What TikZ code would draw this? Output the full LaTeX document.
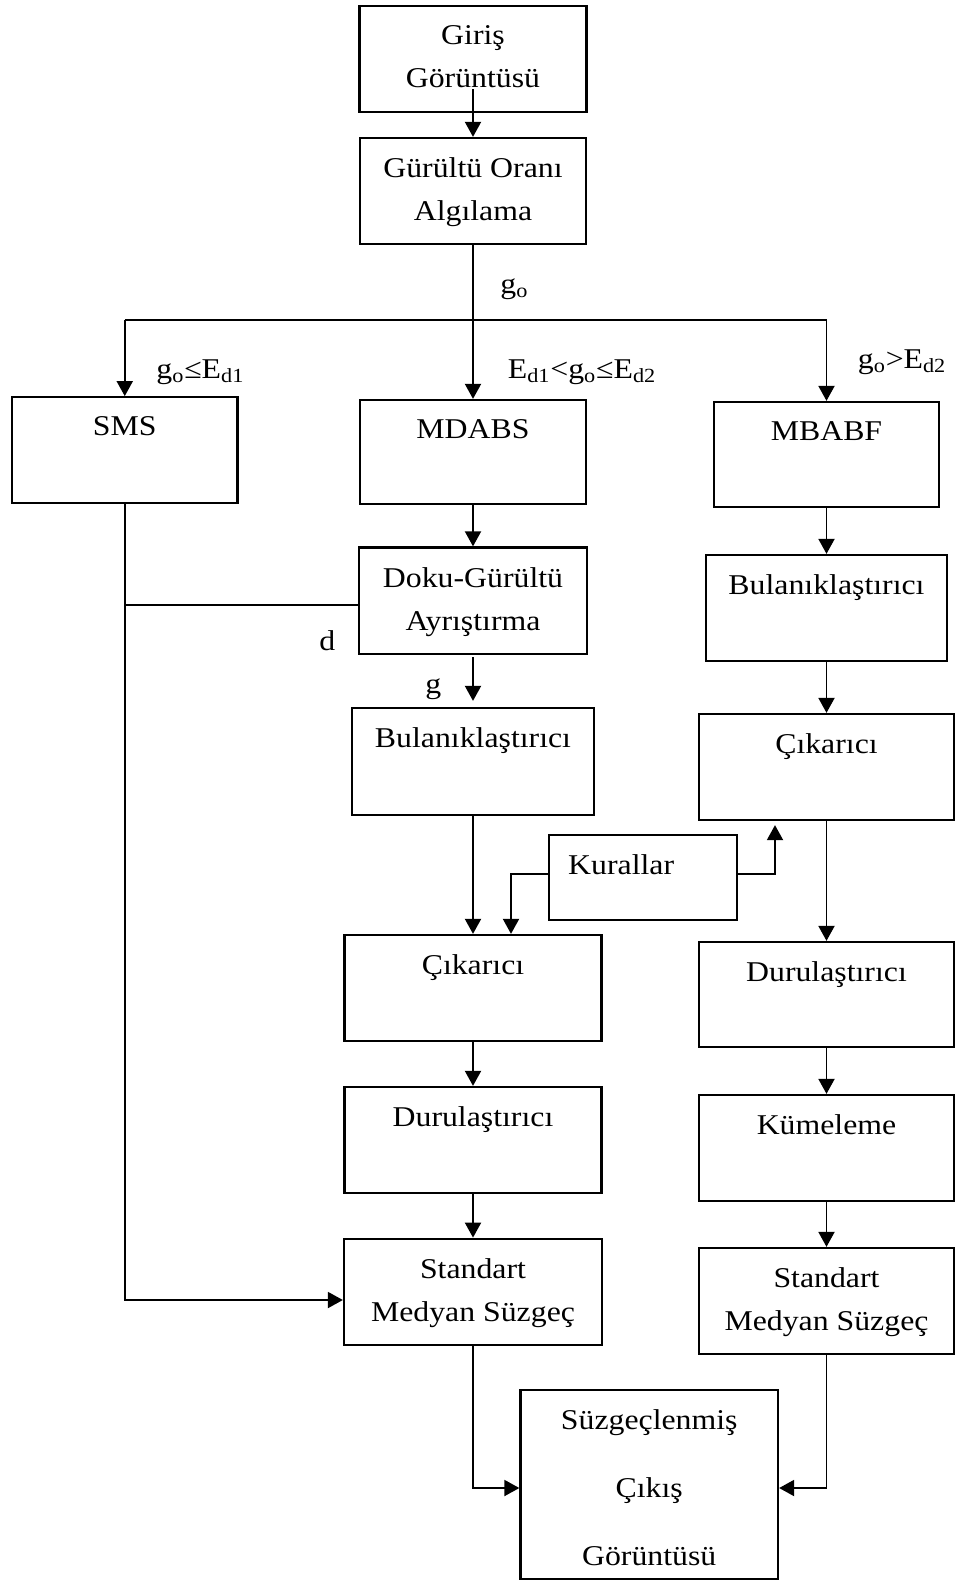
\documentclass[tikz,border=0pt]{standalone}
\usepackage{fontspec}
\setmainfont{Liberation Serif}[FakeStretch=1.11]
\usetikzlibrary{arrows.meta}

\begin{document}
\begin{tikzpicture}[
        kutu/.style={draw, line width=1.3pt, inner sep=0pt},
        yazi/.style={anchor=north, inner sep=0pt, align=center},
        etiket/.style={anchor=base west, inner sep=0pt},
        ok/.style={-{Triangle[length=0.3cm,width=0.32cm]}, line width=1.1pt},
        font=\fontsize{16.3}{24.5}\selectfont]
        \useasboundingbox (0,0) rectangle (19.1,-31.6);

        % --- Draw top boxes ---
        \node[kutu, minimum width=4.54cm, minimum height=2.12cm] (giris) at (9.46,-1.18) {};
        \node[yazi] (girisY) at ([yshift=-0.41cm]giris.north) {Giriş\\Görüntüsü};
        \node[kutu, minimum width=4.53cm, minimum height=2.12cm] (orani) at (9.46,-3.82) {};
        \node[yazi] (oraniY) at ([yshift=-0.41cm]orani.north) {Gürültü Oranı\\Algılama};
        % ---

        % --- Draw the three methods ---
        \node[kutu, minimum width=4.51cm, minimum height=2.11cm] (sms) at (2.495,-9.0) {};
        \node[yazi] (smsY) at ([yshift=-0.41cm]sms.north) {SMS};
        \node[kutu, minimum width=4.53cm, minimum height=2.08cm] (mdabs) at (9.46,-9.04) {};
        \node[yazi] (mdabsY) at ([yshift=-0.41cm]mdabs.north) {MDABS};
        \node[kutu, minimum width=4.51cm, minimum height=2.1cm] (mbabf) at (16.53,-9.09) {};
        \node[yazi] (mbabfY) at ([yshift=-0.41cm]mbabf.north) {MBABF};
        % ---

        % --- Draw middle column ---
        \node[kutu, minimum width=4.56cm, minimum height=2.13cm] (doku) at (9.46,-12.015) {};
        \node[yazi] (dokuY) at ([yshift=-0.41cm]doku.north) {Doku-Gürültü\\Ayrıştırma};
        \node[kutu, minimum width=4.83cm, minimum height=2.14cm] (bul1) at (9.46,-15.23) {};
        \node[yazi] (bul1Y) at ([yshift=-0.41cm]bul1.north) {Bulanıklaştırıcı};
        \node[kutu, minimum width=3.76cm, minimum height=1.7cm] (kural) at (12.86,-17.55) {};
        \node[yazi, anchor=north west] (kuralY) at ([xshift=0.4cm, yshift=-0.41cm]kural.north west) {Kurallar};
        \node[kutu, minimum width=5.14cm, minimum height=2.12cm] (cik1) at (9.46,-19.76) {};
        \node[yazi] (cik1Y) at ([yshift=-0.41cm]cik1.north) {Çıkarıcı};
        \node[kutu, minimum width=5.14cm, minimum height=2.12cm] (dur1) at (9.46,-22.8) {};
        \node[yazi] (dur1Y) at ([yshift=-0.41cm]dur1.north) {Durulaştırıcı};
        \node[kutu, minimum width=5.16cm, minimum height=2.13cm] (std1) at (9.46,-25.84) {};
        \node[yazi] (std1Y) at ([yshift=-0.41cm]std1.north) {Standart\\Medyan Süzgeç};
        % ---

        % --- Draw right column ---
        \node[kutu, minimum width=4.82cm, minimum height=2.12cm] (bul2) at (16.53,-12.16) {};
        \node[yazi] (bul2Y) at ([yshift=-0.41cm]bul2.north) {Bulanıklaştırıcı};
        \node[kutu, minimum width=5.1cm, minimum height=2.12cm] (cik2) at (16.53,-15.34) {};
        \node[yazi] (cik2Y) at ([yshift=-0.41cm]cik2.north) {Çıkarıcı};
        \node[kutu, minimum width=5.1cm, minimum height=2.1cm] (dur2) at (16.53,-19.89) {};
        \node[yazi] (dur2Y) at ([yshift=-0.41cm]dur2.north) {Durulaştırıcı};
        \node[kutu, minimum width=5.1cm, minimum height=2.12cm] (kume) at (16.53,-22.96) {};
        \node[yazi] (kumeY) at ([yshift=-0.41cm]kume.north) {Kümeleme};
        \node[kutu, minimum width=5.1cm, minimum height=2.12cm] (std2) at (16.53,-26.02) {};
        \node[yazi] (std2Y) at ([yshift=-0.41cm]std2.north) {Standart\\Medyan Süzgeç};
        % ---

        % --- Draw output box ---
        \node[kutu, minimum width=5.15cm, minimum height=3.78cm] (cikis) at (12.985,-29.69) {};
        \node[yazi] (cikisY) at ([yshift=-0.41cm]cikis.north) {Süzgeçlenmiş\\[0.5cm]Çıkış\\[0.5cm]Görüntüsü};
        % ---

        % --- Draw labels ---
        \node[etiket] (goY) at (10.0,-5.86) {g\textsubscript{o}};
        \node[etiket] (kosul1) at (3.12,-7.56) {g\textsubscript{o}≤E\textsubscript{d1}};
        \node[etiket] (kosul2) at (10.15,-7.56) {E\textsubscript{d1}<g\textsubscript{o}≤E\textsubscript{d2}};
        \node[etiket] (kosul3) at (17.15,-7.36) {g\textsubscript{o}>E\textsubscript{d2}};
        \node[etiket] (dY) at (6.38,-13.0) {d};
        \node[etiket] (gY) at (8.5,-13.87) {g};
        % ---

        % --- Draw connectors ---
        \coordinate (dal) at (9.46,-6.4);
        \draw[ok] ([yshift=0.48cm]giris.south) -- (orani.north);
        \draw[line width=1.1pt] (orani.south) -- (dal);
        \draw[line width=1.1pt] (sms.north |- dal) -- (mbabf.north |- dal);
        \draw[ok] (sms.north |- dal) -- (sms.north);
        \draw[ok] (dal) -- (mdabs.north);
        \draw[ok] (mbabf.north |- dal) -- (mbabf.north);

        \draw[ok] (mdabs.south) -- (doku.north);
        \draw[ok, shorten <=0.04cm, shorten >=0.12cm] (doku.south) -- (bul1.north);
        \draw[ok] (bul1.south) -- (cik1.north);
        \draw[ok] (cik1.south) -- (dur1.north);
        \draw[ok] (dur1.south) -- (std1.north);
        \draw[line width=1.1pt] ([yshift=-0.08cm]doku.west) -- ([yshift=-0.08cm]doku.west -| sms.south);
        \draw[ok] (sms.south) |- ([yshift=-0.16cm]std1.west);

        \draw[ok] (mbabf.south) -- (bul2.north);
        \draw[ok] (bul2.south) -- (cik2.north);
        \draw[ok] (cik2.south) -- (dur2.north);
        \draw[ok] (dur2.south) -- (kume.north);
        \draw[ok] (kume.south) -- (std2.north);

        \draw[ok] ([yshift=0.07cm]kural.west) -| ([xshift=0.76cm]cik1.north);
        \draw[ok, shorten >=0.08cm] ([yshift=0.07cm]kural.east) -| ([xshift=-1.03cm]cik2.south);

        \draw[ok] (std1.south) |- ([yshift=-0.07cm]cikis.west);
        \draw[ok] (std2.south) |- ([yshift=-0.07cm]cikis.east);
        % ---
\end{tikzpicture}
\end{document}
